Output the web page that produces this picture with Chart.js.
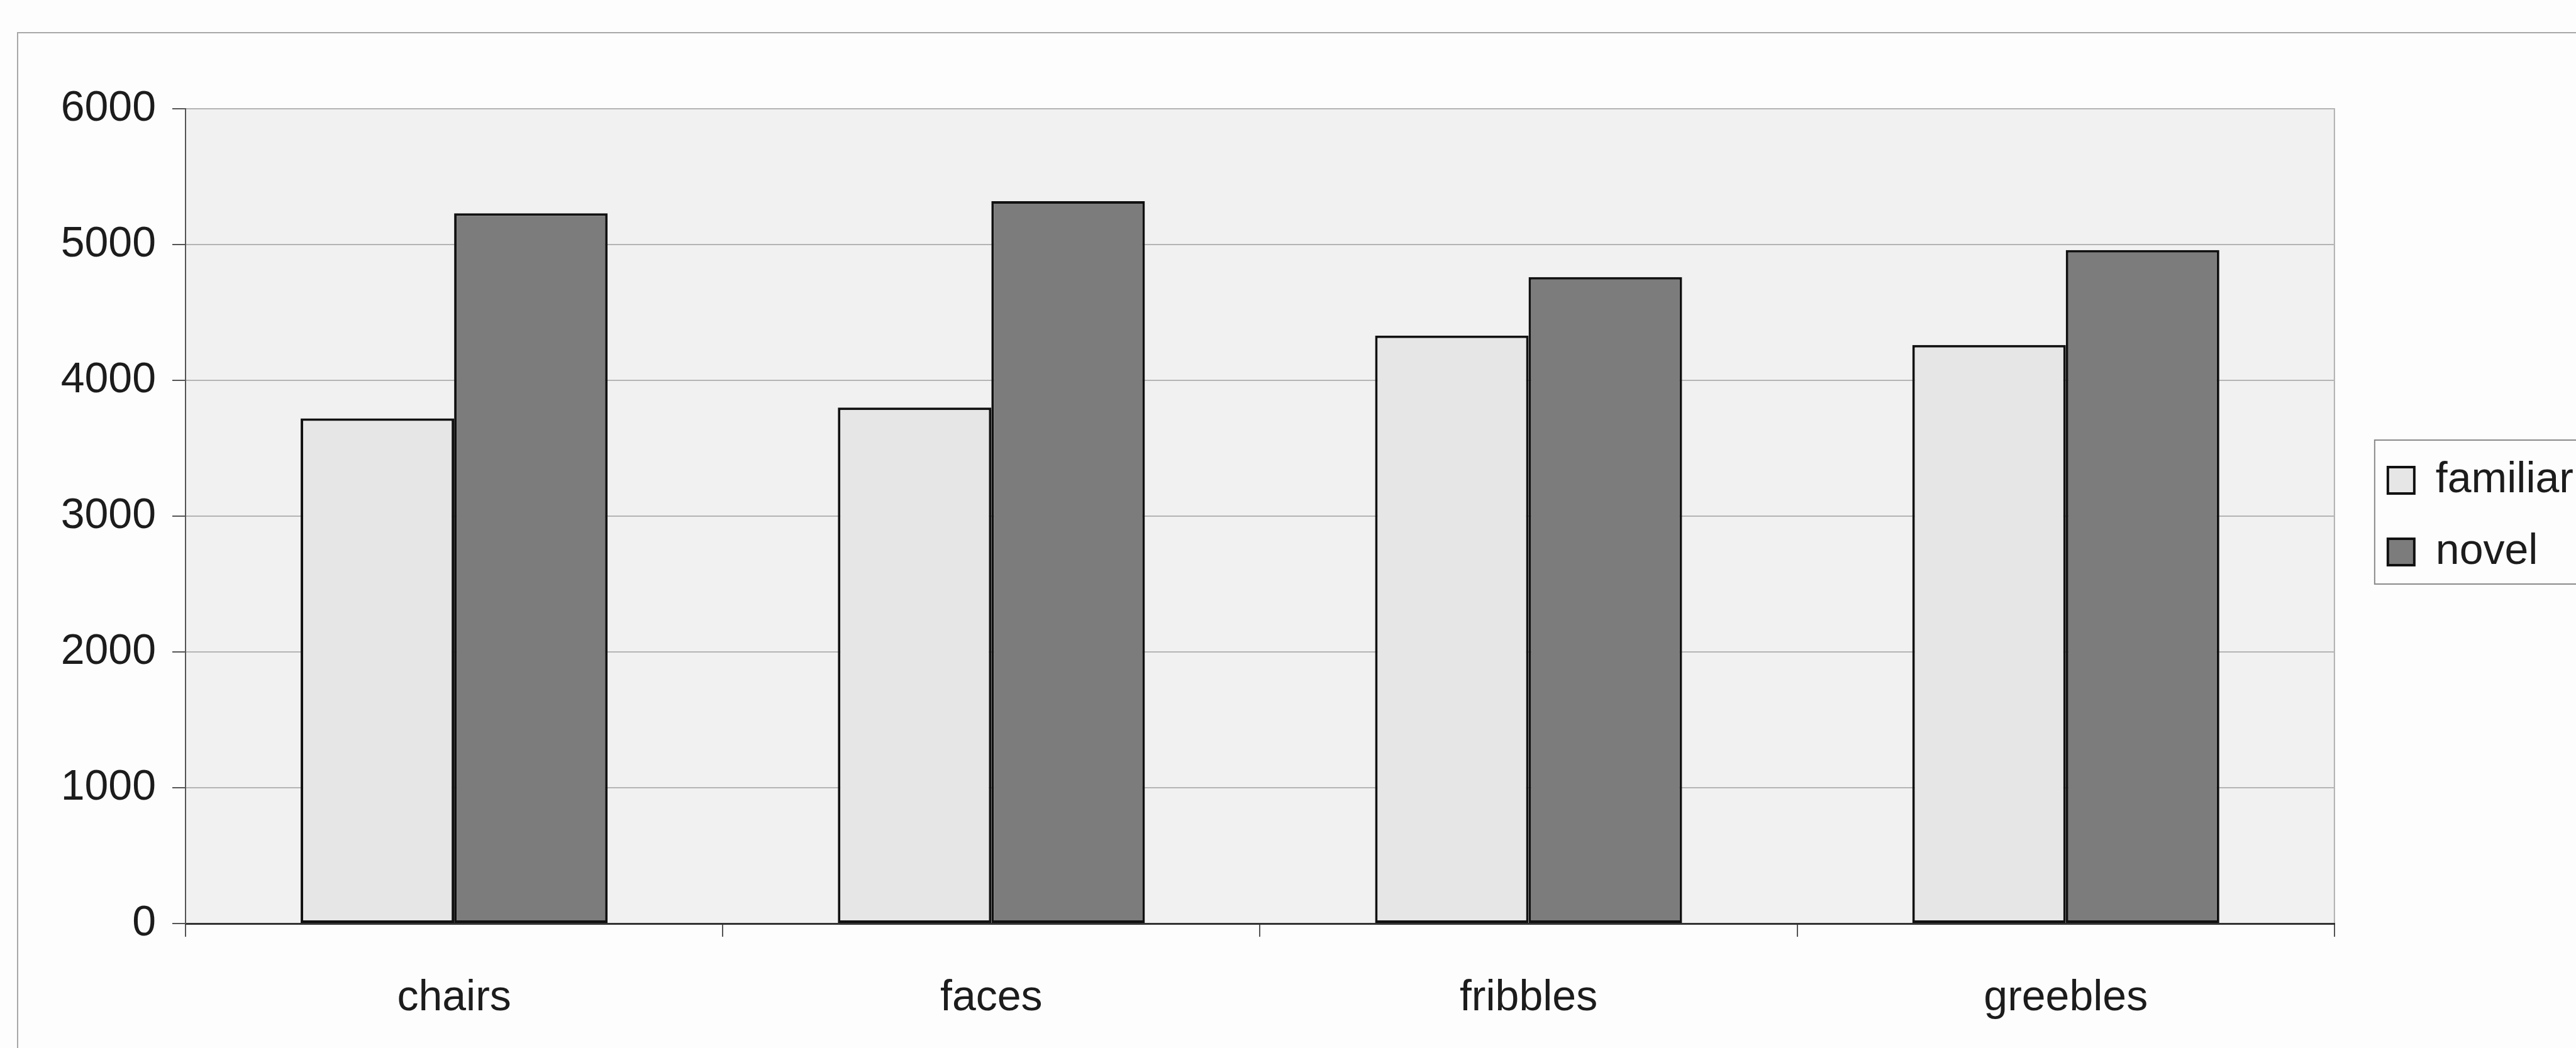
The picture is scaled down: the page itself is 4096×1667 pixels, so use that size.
<!DOCTYPE html>
<html>
<head>
<meta charset="utf-8">
<script src="https://cdn.jsdelivr.net/npm/chart.js@4.4.1/dist/chart.umd.min.js"></script>
<style>
  html, body { margin: 0; padding: 0; background: #ffffff; }
  #wrap { width: 4096px; height: 1667px; }
</style>
</head>
<body>
<div id="wrap"><canvas id="chart_1" width="4096" height="1667"></canvas></div>
<script>
const categories = ["chairs", "faces", "fribbles", "greebles"];
const familiar = [3720, 3800, 4330, 4260];
const novel = [5230, 5320, 4760, 4960];
const yTicks = [0, 1000, 2000, 3000, 4000, 5000, 6000];

const chart_1 = document.getElementById("chart_1").getContext("2d");

Chart.defaults.font.family = "'Liberation Sans', Arial, sans-serif";
Chart.defaults.color = "#1c1c1c";

// page background, outer chart frame and grey plot area
const frame = {
    id: "frame",
    beforeDraw(chart) {
        const ctx = chart.ctx;
        const a = chart.chartArea;
        ctx.save();
        ctx.fillStyle = "#fdfdfd";
        ctx.fillRect(0, 0, chart.width, chart.height);
        ctx.strokeStyle = "#a8a8a8";
        ctx.lineWidth = 2;
        ctx.strokeRect(28, 52, chart.width + 50, chart.height + 50);
        ctx.fillStyle = "#f1f1f1";
        ctx.fillRect(a.left, a.top, a.right - a.left, a.bottom - a.top);
        ctx.strokeStyle = "#b0b0b0";
        ctx.strokeRect(a.left, a.top, a.right - a.left, a.bottom - a.top);
        ctx.restore();
    },
    afterLayout(chart) {
        // push the legend a bit away from the plot area
        chart.legend.left += 39;
        chart.legend.right += 39;
    },
    afterDraw(chart) {
        const lg = chart.legend;
        const pad = lg.options.labels.padding;
        const ctx = chart.ctx;
        const x0 = lg.left + pad - 21;
        const h = lg.legendItems.length * (68 + pad);
        const y0 = (lg.top + pad + lg.bottom - h) / 2 + 13 - 43;
        ctx.save();
        ctx.strokeStyle = "#8a8a8a";
        ctx.lineWidth = 2;
        ctx.strokeRect(x0, y0, chart.width, 229);
        ctx.restore();
    }
};

let char1 = new Chart(chart_1, {
    type: "bar",
    data: {
        labels: categories,
        datasets: [
            {
                label: "familiar",
                data: familiar,
                backgroundColor: "#e6e6e6",
                borderColor: "#111111",
                borderWidth: 4,
                borderSkipped: false,
            },
            {
                label: "novel",
                data: novel,
                backgroundColor: "#7c7c7c",
                borderColor: "#111111",
                borderWidth: 4,
                borderSkipped: false,
            },
        ],
    },
    options: {
        responsive: false,
        animation: false,
        categoryPercentage: 2 / 3.5,
        barPercentage: 1,
        layout: {
            padding: { top: 173, left: 0, right: 33, bottom: 0 },
        },
        plugins: {
            tooltip: { enabled: false },
            legend: {
                position: "right",
                fullSize: false,
                labels: {
                    boxWidth: 42,
                    boxHeight: 42,
                    padding: 46,
                    color: "#1c1c1c",
                    font: { size: 68 },
                },
            },
        },
        scales: {
            x: {
                grid: {
                    display: true,
                    offset: true,
                    drawOnChartArea: false,
                    tickLength: 21,
                    tickColor: "#555555",
                    lineWidth: 2,
                },
                border: { color: "#333333", width: 3 },
                ticks: { font: { size: 68 }, padding: 57, color: "#1c1c1c" },
                afterFit(scale) { scale.height = 198; },
            },
            y: {
                min: 0,
                max: 6000,
                afterBuildTicks(scale) { scale.ticks = yTicks.map(v => ({ value: v })); },
                grid: {
                    color: "#b4b4b4",
                    lineWidth: 2,
                    tickLength: 21,
                    tickColor: "#555555",
                },
                border: { color: "#555555", width: 2 },
                ticks: {
                    font: { size: 68 },
                    padding: 26,
                    color: "#1c1c1c",
                    callback: (v) => String(v),
                },
                afterFit(scale) { scale.width = 295; },
            },
        },
    },
    plugins: [frame],
});
</script>
</body>
</html>
